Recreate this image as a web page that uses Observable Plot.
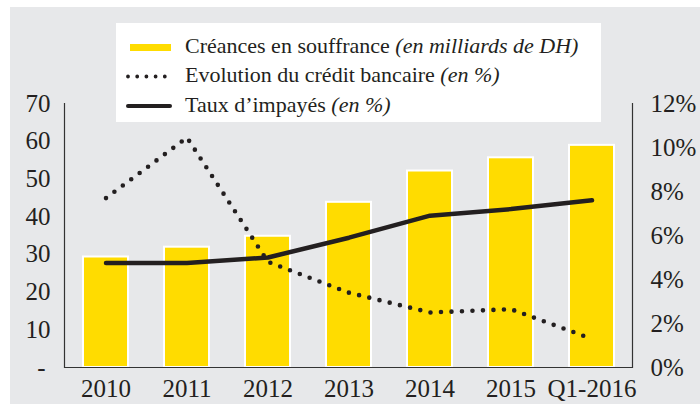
<!DOCTYPE html>
<html>
<head>
<meta charset="utf-8">
<script src="https://cdn.jsdelivr.net/npm/d3@7"></script>
<script src="https://cdn.jsdelivr.net/npm/@observablehq/plot@0.6"></script>
<style>
  html, body { margin: 0; padding: 0; background: #ffffff; }
  #wrap { position: relative; width: 700px; height: 404px; overflow: hidden; }
  #bg { position: absolute; left: 10px; top: 7px; width: 690px; height: 397px; background: #e7e8ea; }
  #chart { position: absolute; left: 0; top: 0; }
  #legend { position: absolute; left: 116px; top: 23px; }
</style>
</head>
<body>
<div id="wrap">
  <div id="bg"></div>
  <div id="chart"></div>
  <svg id="legend" width="485" height="99" xmlns="http://www.w3.org/2000/svg"></svg>
</div>
<script>
// ---- data ----
const years = ["2010", "2011", "2012", "2013", "2014", "2015", "Q1-2016"];
const creances = [29.3, 31.9, 34.8, 43.8, 52.1, 55.6, 58.9];      // milliards de DH
const creditGrowth = [7.7, 10.45, 4.8, 3.4, 2.5, 2.65, 1.3];       // %
const tauxImpayes = [4.75, 4.75, 5.0, 5.9, 6.9, 7.2, 7.6];         // %
const leftTicks = [0, 10, 20, 30, 40, 50, 60, 70];
const rightTicks = [0, 2, 4, 6, 8, 10, 12];
const legendLabels = [
  ["Créances en souffrance ", "(en milliards de DH)"],
  ["Evolution du crédit bancaire ", "(en %)"],
  ["Taux d\u2019impayés ", "(en %)"]
];

const yMax = leftTicks[leftTicks.length - 1];
const pMax = rightTicks[rightTicks.length - 1];
const k = yMax / pMax;

const rows = years.map((year, i) => ({
  year, creances: creances[i], credit: creditGrowth[i], impayes: tauxImpayes[i]
}));

const ink = "#231f20";
const gold = "#FFDC00";
const font = "'Liberation Serif', 'Times New Roman', serif";

const chart = Plot.plot({
  width: 700,
  height: 404,
  marginLeft: 64,
  marginRight: 68,
  marginTop: 103,
  marginBottom: 37,
  style: { background: "transparent", fontFamily: font, fontSize: "25px", color: ink },
  x: { domain: years, paddingInner: 0.45, paddingOuter: 0.225, label: null },
  y: { domain: [0, yMax], label: null },
  marks: [
    Plot.barY(rows, { x: "year", y: "creances", fill: gold, stroke: "white", strokeWidth: 2 }),
    Plot.frame({ anchor: "left", stroke: "#333", strokeWidth: 1.2 }),
    Plot.frame({ anchor: "right", stroke: "#333", strokeWidth: 1.2 }),
    Plot.ruleY([0], { stroke: "#333", strokeWidth: 1.2 }),
    Plot.line(rows, {
      x: "year", y: d => d.credit * k, stroke: ink, strokeWidth: 4.6,
      strokeDasharray: "0 10.5", strokeLinecap: "round", strokeLinejoin: "round"
    }),
    Plot.line(rows, {
      x: "year", y: d => d.impayes * k, stroke: ink, strokeWidth: 4.5,
      strokeLinecap: "round", strokeLinejoin: "round"
    }),
    Plot.axisX({ tickSize: 0, tickPadding: 12, label: null, fill: ink }),
    Plot.axisY({
      anchor: "left", ticks: leftTicks, tickSize: 0, tickPadding: 14, label: null, fill: ink,
      tickFormat: d => d === 0 ? "-\u2009" : String(d)
    }),
    Plot.axisY({
      anchor: "right", ticks: rightTicks.map(p => p * k), tickSize: 0, tickPadding: 18, label: null, fill: ink,
      tickFormat: v => Math.round(v / k) + "%"
    })
  ]
});
document.getElementById("chart").appendChild(chart);

// ---- legend ----
const lg = d3.select("#legend");
lg.append("rect").attr("width", 485).attr("height", 99).attr("fill", "#ffffff");
const rowY = [24.5, 53.5, 83];
lg.append("rect").attr("x", 14).attr("y", rowY[0] - 3.5).attr("width", 41).attr("height", 7).attr("fill", gold);
lg.append("line").attr("x1", 12).attr("x2", 49.5).attr("y1", rowY[1]).attr("y2", rowY[1])
  .attr("stroke", ink).attr("stroke-width", 3.8).attr("stroke-linecap", "round").attr("stroke-dasharray", "0 9.2");
lg.append("line").attr("x1", 12).attr("x2", 54).attr("y1", rowY[2]).attr("y2", rowY[2])
  .attr("stroke", ink).attr("stroke-width", 4).attr("stroke-linecap", "round");
legendLabels.forEach((lab, i) => {
  const t = lg.append("text").attr("x", 69).attr("y", rowY[i] + 5.5)
    .attr("font-family", font).attr("font-size", 22).attr("fill", ink);
  t.append("tspan").text(lab[0]);
  t.append("tspan").attr("font-style", "italic").text(lab[1]);
});
</script>
</body>
</html>
